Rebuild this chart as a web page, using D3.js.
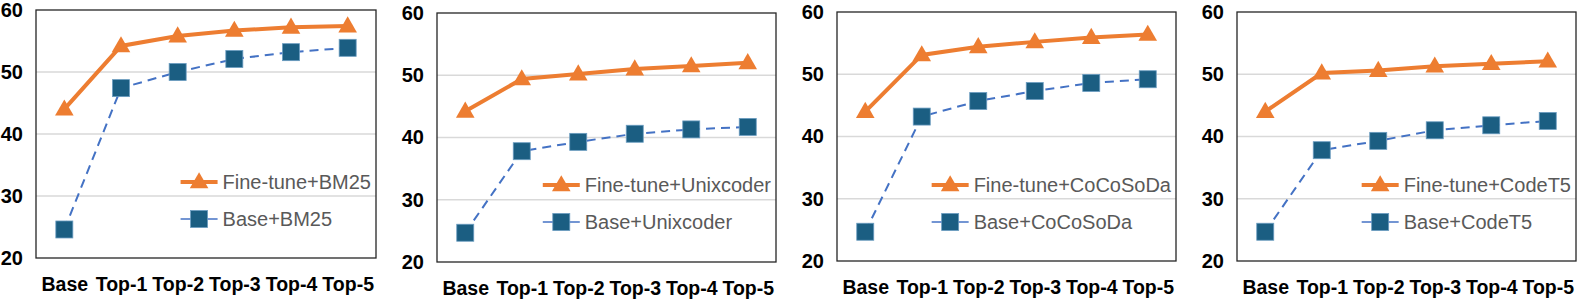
<!DOCTYPE html>
<html lang="en">
  <head>
    <meta charset="UTF-8" />
    <title>Retrieval results</title>
    <script src="https://cdn.jsdelivr.net/npm/d3@7"></script>
    <style>
      html,
      body {
        margin: 0;
        padding: 0;
        background: #fff;
      }
      svg {
        display: block;
        font-family: 'Liberation Sans', Arial, sans-serif;
      }
    </style>
  </head>
  <body>
    <svg width="1577" height="299"></svg>
    <script>
      const categories = ['Base', 'Top-1', 'Top-2', 'Top-3', 'Top-4', 'Top-5'];
      const yTicks = [20, 30, 40, 50, 60];
      const retrievers = ['BM25', 'Unixcoder', 'CoCoSoDa', 'CodeT5'];

      const fineTuneBM25 = [44.0, 54.2, 55.8, 56.7, 57.2, 57.4];
      const baseBM25 = [24.6, 47.4, 50.0, 52.1, 53.2, 53.9];
      const fineTuneUnixcoder = [44.2, 49.4, 50.2, 51.0, 51.5, 52.0];
      const baseUnixcoder = [24.7, 37.8, 39.3, 40.6, 41.3, 41.7];
      const fineTuneCoCoSoDa = [44.0, 53.1, 54.4, 55.2, 55.9, 56.4];
      const baseCoCoSoDa = [24.7, 43.2, 45.7, 47.3, 48.6, 49.2];
      const fineTuneCodeT5 = [44.0, 50.2, 50.6, 51.3, 51.7, 52.1];
      const baseCodeT5 = [24.7, 37.8, 39.3, 41.0, 41.8, 42.5];

      const fineTuneSeries = [fineTuneBM25, fineTuneUnixcoder, fineTuneCoCoSoDa, fineTuneCodeT5];
      const baseSeries = [baseBM25, baseUnixcoder, baseCoCoSoDa, baseCodeT5];

      // plot boxes of the four panels: left, right, top, bottom
      const boxes = [
        [36, 376, 10, 258],
        [437, 776, 13, 262],
        [837, 1176, 12, 261],
        [1237, 1576, 12, 261],
      ];

      const orange = '#ED7D31';
      const blueLine = '#4472C4';
      const blueMark = '#1B5E82';

      const svg = d3.select('svg');
      const triangle = d3.symbol().type(d3.symbolTriangle).size(150);

      retrievers.forEach(function(name, i) {
        const [x0, x1, y0, y1] = boxes[i];
        const g = svg.append('g');

        const x = d3.scalePoint().domain(categories).range([x0, x1]).padding(0.5);
        const y = d3.scaleLinear().domain([20, 60]).range([y1, y0]);

        // gridlines
        g.selectAll('line.grid')
          .data(yTicks.slice(1, -1))
          .enter()
          .append('line')
          .attr('x1', x0)
          .attr('x2', x1)
          .attr('y1', d => y(d))
          .attr('y2', d => y(d))
          .attr('stroke', '#d9d9d9')
          .attr('stroke-width', 1.5);

        g.append('rect')
          .attr('x', x0)
          .attr('y', y0)
          .attr('width', x1 - x0)
          .attr('height', y1 - y0)
          .attr('fill', 'none')
          .attr('stroke', '#262626')
          .attr('stroke-width', 1.3);

        // y axis labels
        const yAxis = d3.axisLeft(y).tickValues(yTicks).tickSize(0).tickPadding(13);
        const yG = g.append('g').attr('transform', `translate(${x0},0)`).call(yAxis);
        yG.select('.domain').remove();
        yG.selectAll('text')
          .attr('font-size', 20)
          .attr('font-weight', 'bold')
          .attr('fill', '#000')
          .attr('font-family', "'Liberation Sans', Arial, sans-serif");

        // x axis labels
        const xAxis = d3.axisBottom(x).tickSize(0).tickPadding(19);
        const xG = g.append('g').attr('transform', `translate(0,${y1})`).call(xAxis);
        xG.select('.domain').remove();
        xG.selectAll('text')
          .attr('font-size', 19.5)
          .attr('font-weight', 'bold')
          .attr('fill', '#000')
          .attr('font-family', "'Liberation Sans', Arial, sans-serif");

        const line = d3
          .line()
          .x((d, j) => x(categories[j]))
          .y(d => y(d));

        g.append('path')
          .datum(baseSeries[i])
          .attr('d', line)
          .attr('fill', 'none')
          .attr('stroke', blueLine)
          .attr('stroke-width', 2)
          .attr('stroke-dasharray', '9,6');

        g.append('path')
          .datum(fineTuneSeries[i])
          .attr('d', line)
          .attr('fill', 'none')
          .attr('stroke', orange)
          .attr('stroke-width', 4);

        g.selectAll('rect.mark')
          .data(baseSeries[i])
          .enter()
          .append('rect')
          .attr('class', 'mark')
          .attr('x', (d, j) => x(categories[j]) - 8.5)
          .attr('y', d => y(d) - 8.5)
          .attr('width', 17)
          .attr('height', 17)
          .attr('fill', blueMark)
          .attr('stroke', '#6a9cc0')
          .attr('stroke-width', 0.8);

        g.selectAll('path.tri')
          .data(fineTuneSeries[i])
          .enter()
          .append('path')
          .attr('class', 'tri')
          .attr('d', triangle)
          .attr('transform', (d, j) => `translate(${x(categories[j])},${y(d) + 1})`)
          .attr('fill', orange);

        // legend, right-aligned inside the box
        const legend = g.append('g');
        const labels = ['Fine-tune+' + name, 'Base+' + name];
        const texts = legend
          .selectAll('text')
          .data(labels)
          .enter()
          .append('text')
          .attr('x', 0)
          .attr('y', (d, j) => j * 37 + 7)
          .attr('font-size', 20)
          .attr('fill', '#595959')
          .text(d => d);
        const w = d3.max(texts.nodes(), n => n.getComputedTextLength());
        const tx = x1 - 5 - w;
        const ly = i === 0 ? 182 : 185;
        legend.attr('transform', `translate(${tx},${ly})`);

        legend.append('line')
          .attr('x1', -42).attr('x2', -5).attr('y1', 0).attr('y2', 0)
          .attr('stroke', orange).attr('stroke-width', 4);
        legend.append('path')
          .attr('d', triangle)
          .attr('transform', 'translate(-23.5,1)')
          .attr('fill', orange);
        legend.append('line')
          .attr('x1', -42).attr('x2', -5).attr('y1', 37).attr('y2', 37)
          .attr('stroke', blueLine).attr('stroke-width', 1.5);
        legend.append('rect')
          .attr('x', -32).attr('y', 37 - 8.5).attr('width', 17).attr('height', 17)
          .attr('fill', blueMark).attr('stroke', '#6a9cc0').attr('stroke-width', 0.8);
      });
    </script>
  </body>
</html>
